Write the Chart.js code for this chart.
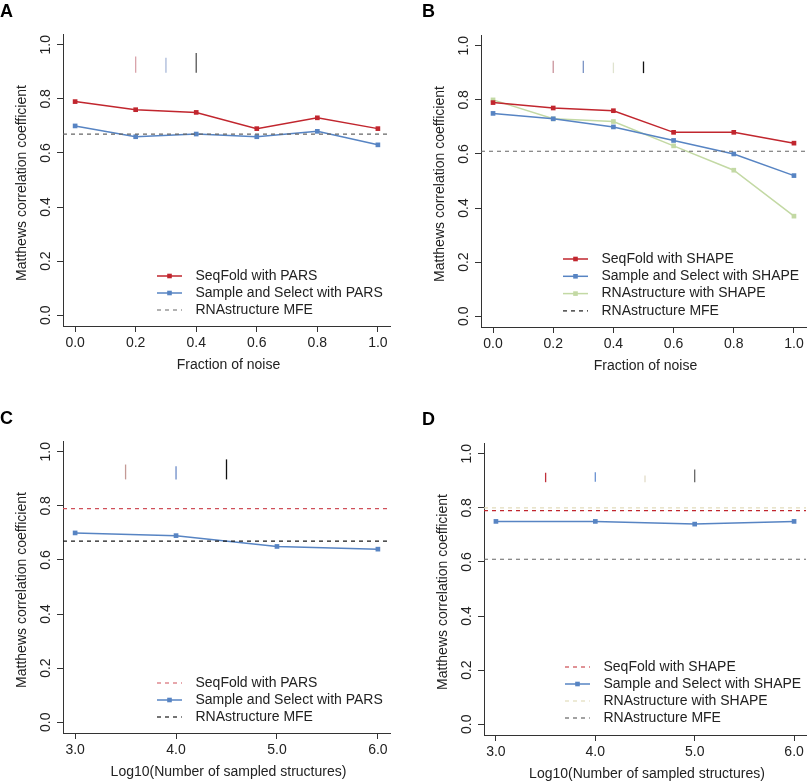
<!DOCTYPE html>
<html lang="en">
<head>
<meta charset="UTF-8">
<title>Matthews correlation coefficient vs noise and sample size</title>
<script src="https://cdn.jsdelivr.net/npm/chart.js"></script>
<style>
  body { margin: 0; background: #fff; }
  #wrap { position: relative; width: 810px; height: 781px; }
  #wrap canvas { position: absolute; }
</style>
</head>
<body>
<div id="wrap">
  <canvas id="panelA" width="405" height="390" style="left:0;top:0;width:405px;height:390px"></canvas>
  <canvas id="panelB" width="405" height="390" style="left:405px;top:0;width:405px;height:390px"></canvas>
  <canvas id="panelC" width="405" height="391" style="left:0;top:390px;width:405px;height:391px"></canvas>
  <canvas id="panelD" width="405" height="391" style="left:405px;top:390px;width:405px;height:391px"></canvas>
</div>
<script>
// ---- data ----
const noiseFractions = [0.0, 0.2, 0.4, 0.6, 0.8, 1.0];
const noiseTicks = [0.0, 0.2, 0.4, 0.6, 0.8, 1.0];
const logSampleSizes = [3.0, 4.0, 5.0, 6.0];
const sizeTicks = [3.0, 4.0, 5.0, 6.0];
const mccTicks = [0.0, 0.2, 0.4, 0.6, 0.8, 1.0];

// panel A (PARS, noise)
const seqFoldParsNoise = [0.79, 0.76, 0.75, 0.69, 0.73, 0.69];
const sampleSelectParsNoise = [0.70, 0.66, 0.67, 0.66, 0.68, 0.63];
const mfeParsA = 0.67;

// panel B (SHAPE, noise)
const seqFoldShapeNoise = [0.79, 0.77, 0.76, 0.68, 0.68, 0.64];
const sampleSelectShapeNoise = [0.75, 0.73, 0.70, 0.65, 0.60, 0.52];
const rnaStructShapeNoise = [0.80, 0.73, 0.72, 0.63, 0.54, 0.37];
const mfeShapeB = 0.61;

// panel C (PARS, sample size)
const sampleSelectParsSize = [0.70, 0.69, 0.65, 0.64];
const seqFoldParsC = 0.79;
const mfeParsC = 0.67;

// panel D (SHAPE, sample size)
const sampleSelectShapeSize = [0.75, 0.75, 0.74, 0.75];
const seqFoldShapeD = 0.79;
const rnaStructShapeD = 0.80;
const mfeShapeD = 0.61;

// small vertical marks near the top of each panel
const marksAx = [0.2, 0.3, 0.4], marksAtop = [0.957, 0.952, 0.970], marksAbot = [0.897, 0.897, 0.897];
const marksBx = [0.2, 0.3, 0.4, 0.5], marksBtop = [0.945, 0.945, 0.938, 0.942], marksBbot = [0.899, 0.899, 0.899, 0.899];
const marksCx = [3.5, 4.0, 4.5], marksCtop = [0.953, 0.947, 0.972], marksCbot = [0.898, 0.898, 0.898];
const marksDx = [3.5, 4.0, 4.5, 5.0], marksDtop = [0.930, 0.932, 0.920, 0.942], marksDbot = [0.895, 0.897, 0.895, 0.895];

const labelsA = ['SeqFold with PARS', 'Sample and Select with PARS', 'RNAstructure MFE'];
const labelsB = ['SeqFold with SHAPE', 'Sample and Select with SHAPE', 'RNAstructure with SHAPE', 'RNAstructure MFE'];
const labelsC = ['SeqFold with PARS', 'Sample and Select with PARS', 'RNAstructure MFE'];
const labelsD = ['SeqFold with SHAPE', 'Sample and Select with SHAPE', 'RNAstructure with SHAPE', 'RNAstructure MFE'];

// ---- styles ----
const FONT = '"Liberation Sans", Arial, Helvetica, sans-serif';
const RED = '#c1262e', BLUE = '#5784c3', GREEN = '#c3d9a4', GREY = '#666666', BLACK = '#1a1a1a';
const noiseRange = [-0.04, 1.04];
const sizeRange = [2.88, 6.12];

function series(xs, ys, color) {
  return {
    data: xs.map((x, i) => ({ x: x, y: ys[i] })),
    borderColor: color, backgroundColor: color, borderWidth: 1.5,
    pointStyle: 'rect', pointRadius: 3.3, pointBorderWidth: 0, tension: 0
  };
}
function hline(v, range, color) {
  return {
    data: [{ x: range[0], y: v }, { x: range[1], y: v }],
    borderColor: color, borderWidth: 1.2, borderDash: [4, 4], pointRadius: 0
  };
}
function marks(xs, tops, bots, colors) {
  return xs.map((x, i) => ({
    data: [{ x: x, y: bots[i] }, { x: x, y: tops[i] }],
    borderColor: colors[i], borderWidth: 1.3, pointRadius: 0
  }));
}

// tick labels (y rotated like R), titles, panel letter and legend
const panelDecor = {
  id: 'panelDecor',
  afterDraw(chart, args, o) {
    const ctx = chart.ctx, a = chart.chartArea, xs = chart.scales.x, ys = chart.scales.y;
    ctx.save();
    ctx.fillStyle = '#222';
    ctx.font = '14px ' + FONT;
    ctx.textAlign = 'center';
    ctx.textBaseline = 'middle';
    ys.ticks.forEach(t => {
      ctx.save();
      ctx.translate(a.left - 17, ys.getPixelForValue(t.value));
      ctx.rotate(-Math.PI / 2);
      ctx.fillText(t.value.toFixed(1), 0, 0);
      ctx.restore();
    });
    xs.ticks.forEach(t => {
      ctx.fillText(t.value.toFixed(1), xs.getPixelForValue(t.value), a.bottom + 17);
    });
    ctx.save();
    ctx.translate(a.left - 41, (a.top + a.bottom) / 2 + 3);
    ctx.rotate(-Math.PI / 2);
    ctx.fillText(o.yTitle, 0, 0);
    ctx.restore();
    ctx.fillText(o.xTitle, (a.left + a.right) / 2 + 2, a.bottom + 39);

    // legend
    const lg = o.legend;
    lg.items.forEach((it, i) => {
      const y = lg.y + i * lg.step;
      ctx.strokeStyle = it.color;
      ctx.lineWidth = it.dash ? 1.2 : 1.5;
      ctx.setLineDash(it.dash ? [4, 4] : []);
      ctx.beginPath();
      ctx.moveTo(lg.x, y);
      ctx.lineTo(lg.x + 25, y);
      ctx.stroke();
      ctx.setLineDash([]);
      if (it.marker) {
        ctx.fillStyle = it.color;
        ctx.fillRect(lg.x + 12.5 - 2.3, y - 2.3, 4.6, 4.6);
      }
      ctx.fillStyle = '#222';
      ctx.textAlign = 'left';
      ctx.fillText(it.label, lg.x + 38.5, y);
    });

    ctx.fillStyle = '#000';
    ctx.font = 'bold 18px ' + FONT;
    ctx.textAlign = 'left';
    ctx.textBaseline = 'top';
    ctx.fillText(o.letter, o.letterX, o.letterY);
    ctx.restore();
  }
};

function axis(range, tickVals) {
  return {
    type: 'linear', min: range[0], max: range[1],
    afterBuildTicks: s => { s.ticks = tickVals.map(v => ({ value: v })); },
    afterFit: s => { if (s.isHorizontal()) s.height = 0; else s.width = 0; },
    grid: { display: true, drawOnChartArea: false, drawTicks: true, tickLength: 6, color: '#333', lineWidth: 1 },
    border: { display: true, color: '#333', width: 1 },
    ticks: { display: false }
  };
}

function makeChart(id, datasets, xRange, xTicks, padding, decor) {
  return new Chart(document.getElementById(id), {
    type: 'line',
    data: { datasets: datasets },
    options: {
      responsive: false, animation: false, devicePixelRatio: 1,
      events: [],
      layout: { padding: padding },
      scales: { x: axis(xRange, xTicks), y: axis([-0.04, 1.04], mccTicks) },
      plugins: { legend: { display: false }, tooltip: { enabled: false }, panelDecor: decor }
    },
    plugins: [panelDecor]
  });
}

// Panel A
makeChart('panelA', [
  hline(mfeParsA, noiseRange, GREY),
  series(noiseFractions, seqFoldParsNoise, RED),
  series(noiseFractions, sampleSelectParsNoise, BLUE),
  ...marks(marksAx, marksAtop, marksAbot, ['#d9a3aa', '#a9b9d9', '#555555'])
], noiseRange, noiseTicks, { left: 63, top: 34, right: 15, bottom: 64 }, {
  letter: 'A', letterX: 0, letterY: 3,
  xTitle: 'Fraction of noise', yTitle: 'Matthews correlation coefficient',
  legend: { x: 157, y: 276, step: 17, items: [
    { label: labelsA[0], color: RED, marker: true },
    { label: labelsA[1], color: BLUE, marker: true },
    { label: labelsA[2], color: GREY, dash: true }
  ] }
});

// Panel B
makeChart('panelB', [
  hline(mfeShapeB, noiseRange, GREY),
  series(noiseFractions, seqFoldShapeNoise, RED),
  series(noiseFractions, sampleSelectShapeNoise, BLUE),
  series(noiseFractions, rnaStructShapeNoise, GREEN),
  ...marks(marksBx, marksBtop, marksBbot, ['#c9939b', '#7a93c4', '#dfe3cf', '#111111'])
], noiseRange, noiseTicks, { left: 76, top: 35, right: 3, bottom: 63 }, {
  letter: 'B', letterX: 17, letterY: 3,
  xTitle: 'Fraction of noise', yTitle: 'Matthews correlation coefficient',
  legend: { x: 158, y: 259, step: 17.3, items: [
    { label: labelsB[0], color: RED, marker: true },
    { label: labelsB[1], color: BLUE, marker: true },
    { label: labelsB[2], color: GREEN, marker: true },
    { label: labelsB[3], color: BLACK, dash: true }
  ] }
});

// Panel C
makeChart('panelC', [
  hline(seqFoldParsC, sizeRange, '#d0505a'),
  hline(mfeParsC, sizeRange, BLACK),
  series(logSampleSizes, sampleSelectParsSize, BLUE),
  ...marks(marksCx, marksCtop, marksCbot, ['#c49a96', '#6d8cc8', '#111111'])
], sizeRange, sizeTicks, { left: 63, top: 51, right: 15, bottom: 48 }, {
  letter: 'C', letterX: 0, letterY: 20,
  xTitle: 'Log10(Number of sampled structures)', yTitle: 'Matthews correlation coefficient',
  legend: { x: 157, y: 293, step: 17, items: [
    { label: labelsC[0], color: '#d0505a', dash: true },
    { label: labelsC[1], color: BLUE, marker: true },
    { label: labelsC[2], color: BLACK, dash: true }
  ] }
});

// Panel D
makeChart('panelD', [
  hline(rnaStructShapeD, sizeRange, '#e2dcbc'),
  hline(seqFoldShapeD, sizeRange, RED),
  hline(mfeShapeD, sizeRange, GREY),
  series(logSampleSizes, sampleSelectShapeSize, BLUE),
  ...marks(marksDx, marksDtop, marksDbot, ['#c0303a', '#6a92d2', '#e2dcc8', '#666666'])
], sizeRange, sizeTicks, { left: 79, top: 53, right: 1, bottom: 46 }, {
  letter: 'D', letterX: 17, letterY: 21,
  xTitle: 'Log10(Number of sampled structures)', yTitle: 'Matthews correlation coefficient',
  legend: { x: 160, y: 277, step: 17, items: [
    { label: labelsD[0], color: RED, dash: true },
    { label: labelsD[1], color: BLUE, marker: true },
    { label: labelsD[2], color: '#e2dcbc', dash: true },
    { label: labelsD[3], color: GREY, dash: true }
  ] }
});
</script>
</body>
</html>
